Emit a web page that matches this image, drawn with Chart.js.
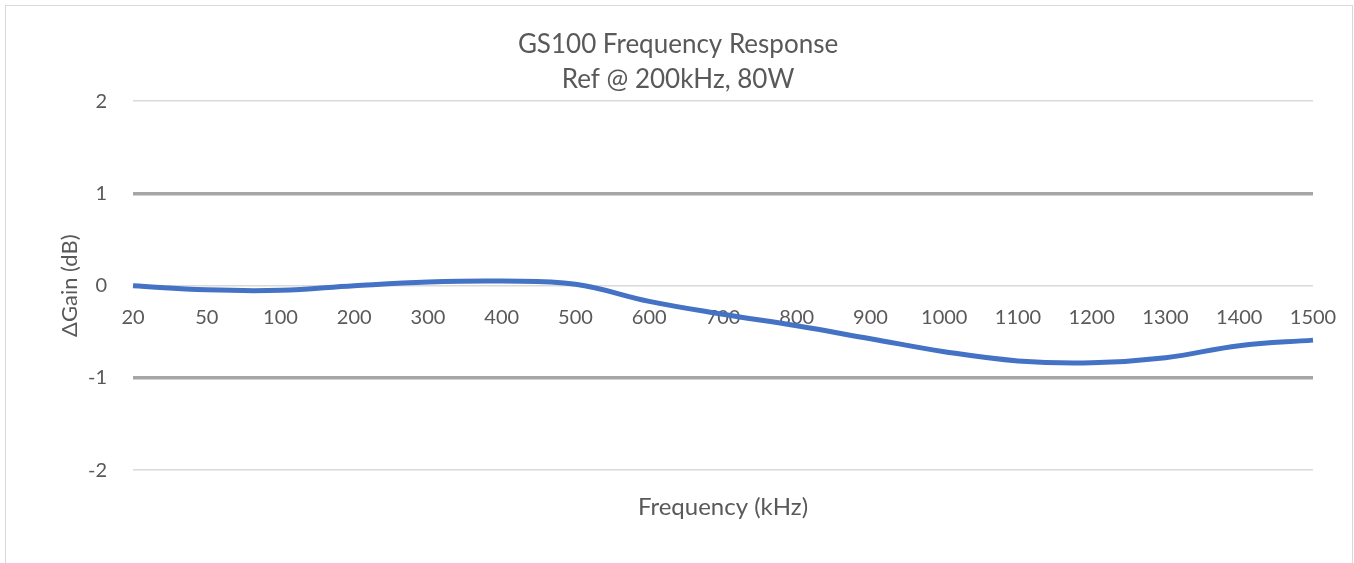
<!DOCTYPE html>
<html>
<head>
<meta charset="utf-8">
<script src="https://cdn.jsdelivr.net/npm/chart.js@4"></script>
<style>
  html, body { margin:0; padding:0; background:#fff; }
  #frame { position:absolute; left:5px; top:5px; width:1346px; height:600px; border:1px solid #d9d9d9; }
  #wrap  { position:absolute; left:0; top:0; width:1354px; height:563px; }
</style>
</head>
<body>
<div id="frame"></div>
<div id="wrap"><canvas id="freqChart" width="1354" height="563"></canvas></div>
<script>
// frequency response of the GS100, gain change relative to 200 kHz
const FREQS  = ['20','50','100','200','300','400','500','600','700','800','900','1000','1100','1200','1300','1400','1500'];
const GAIN   = [0, -0.045, -0.05, 0.0, 0.04, 0.05, 0.015, -0.17, -0.31, -0.435, -0.575, -0.715, -0.815, -0.835, -0.78, -0.65, -0.59];
const Y_TICKS = [-2, -1, 0, 1, 2];

const TXT = '#595959';
const FONT = 'Lato, "Open Sans", sans-serif';

const noSidePad = s => { s.paddingLeft = 0; s.paddingRight = 0; };

new Chart(document.getElementById('freqChart'), {
  type: 'line',
  data: {
    labels: FREQS,
    datasets: [{
      data: GAIN, borderColor: '#4472c4', borderWidth: 5,
      pointRadius: 0, tension: 0.4, fill: false,
    }],
  },
  options: {
    responsive: false, animation: false,
    layout: { padding: { left: 43, right: 41, top: 0, bottom: 0 } },
    plugins: {
      legend: { display: false },
      tooltip: { enabled: false },
      title: {
        display: true, text: ['GS100 Frequency Response', 'Ref @ 200kHz, 80W'],
        color: TXT, font: { family: FONT, size: 26, weight: 'normal', lineHeight: 1.35 },
        padding: { top: 27, bottom: 4 },
      },
    },
    scales: {
      x: {
        position: { y: 0 },
        offset: false,
        afterFit: noSidePad,
        grid: { display: false, drawTicks: false },
        border: { display: false },
        ticks: { color: TXT, font: { family: FONT, size: 20 }, autoSkip: false, maxRotation: 0, padding: 20 },
      },
      // bottom axis only carries the title, centred under the plot
      xTitle: {
        type: 'category', position: 'bottom', offset: false,
        afterFit: noSidePad,
        grid: { display: false, drawTicks: false },
        border: { display: false },
        ticks: { display: false },
        title: {
          display: true, text: 'Frequency (kHz)', color: TXT,
          font: { family: FONT, size: 24, lineHeight: 1.2 }, padding: { top: 23, bottom: 41 },
        },
      },
      y: {
        min: -2, max: 2,
        afterBuildTicks: s => { s.ticks = Y_TICKS.map(v => ({ value: v })); },
        afterFit: s => { s.width = 90; },
        grid: {
          drawTicks: false,
          color: c => Math.abs(c.tick.value) === 1 ? '#a6a6a6' : '#d9d9d9',
          lineWidth: c => Math.abs(c.tick.value) === 1 ? 3.5 : 1.5,
        },
        border: { display: false },
        ticks: { color: TXT, font: { family: FONT, size: 20 }, padding: 26 },
        title: {
          display: true, text: 'ΔGain (dB)', color: TXT,
          font: { family: FONT, size: 22 }, padding: { top: 14, bottom: 12 },
        },
      },
    },
  },
});
</script>
</body>
</html>
